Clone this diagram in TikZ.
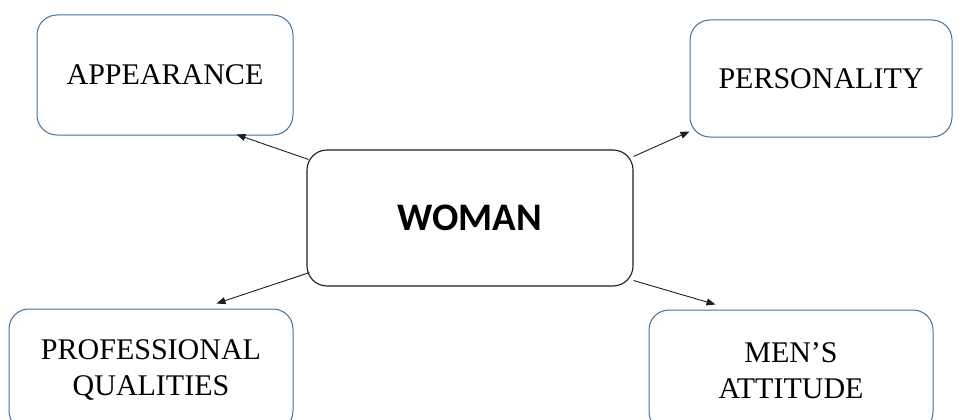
\documentclass[tikz,border=0pt]{standalone}
\usepackage{fontspec}
\setmainfont{Liberation Serif}
\newfontfamily\headfont{Carlito}
\usetikzlibrary{arrows.meta}
\definecolor{boxblue}{RGB}{65,113,156}
\definecolor{inkgrey}{RGB}{30,30,30}
\tikzset{
  topic/.style={draw=boxblue, line width=1pt, rounded corners=20pt, fill=white,
    align=center, font=\fontsize{30}{36}\selectfont, text=black, inner sep=0pt},
  hub/.style={draw=inkgrey, line width=1.1pt, rounded corners=20pt, fill=white,
    align=center, font=\headfont\bfseries\fontsize{39}{44}\selectfont, text=black, inner sep=0pt},
  link/.style={draw=inkgrey, line width=0.9pt, -{Triangle[length=9pt,width=7pt]}}
}
\begin{document}
\begin{tikzpicture}[x=1pt,y=-1pt]
  \useasboundingbox (0,0) rectangle (959,420);
  \clip (0,0) rectangle (959,420);

  \node[hub, minimum width=326pt, minimum height=136pt] (woman) at (470,218) {WOMAN};

  \node[topic, minimum width=256pt, minimum height=120pt] (app) at (165,75) {APPEARANCE};
  \node[topic, minimum width=262pt, minimum height=117pt] (pers) at (821,78.5) {PERSONALITY};
  \node[topic, minimum width=284pt, minimum height=122pt] (prof) at (151,370) {PROFESSIONAL\\QUALITIES};
  \node[topic, minimum width=284pt, minimum height=122pt] (men) at (791,371) {MEN’S\\ATTITUDE};

  \draw[link] ([shift={(2,10)}]woman.north west) -- ([shift={(-57,-1)}]app.south east);
  \draw[link] ([shift={(0,7)}]woman.north east) -- ([shift={(0,-6)}]pers.south west);
  \draw[link] ([shift={(3,-14)}]woman.south west) -- ([shift={(208,-5)}]prof.north west);
  \draw[link] ([shift={(0,-6)}]woman.south east) -- ([shift={(67,-5)}]men.north west);
\end{tikzpicture}
\end{document}
